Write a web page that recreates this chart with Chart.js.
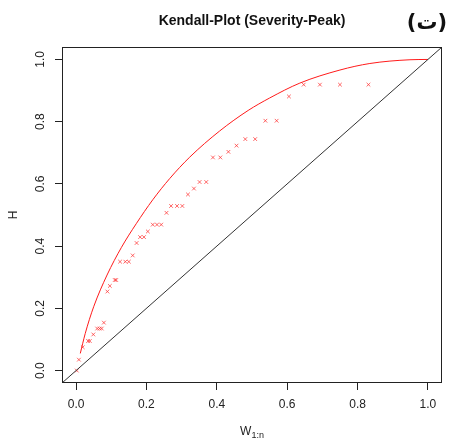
<!DOCTYPE html>
<html>
<head>
<meta charset="utf-8">
<script src="https://cdn.jsdelivr.net/npm/chart.js@4"></script>
<style>
  body { margin: 0; background: #fff; }
  canvas { display: block; }
</style>
</head>
<body>
<canvas id="kendall" width="449" height="438"></canvas>
<script>
// empirical Kendall points (W_i:n, H_i)
const wPoints = [0.002, 0.008, 0.019, 0.034, 0.039, 0.049, 0.060, 0.067, 0.073, 0.079,
  0.089, 0.096, 0.110, 0.114, 0.125, 0.140, 0.150, 0.161, 0.172, 0.182,
  0.193, 0.204, 0.218, 0.230, 0.242, 0.257, 0.270, 0.287, 0.302, 0.318,
  0.335, 0.351, 0.370, 0.389, 0.410, 0.433, 0.456, 0.481, 0.509, 0.538,
  0.570, 0.605, 0.647, 0.693, 0.750, 0.831];
const hPoints = [0.000, 0.035, 0.075, 0.095, 0.095, 0.116, 0.135, 0.135, 0.135, 0.154,
  0.254, 0.272, 0.291, 0.291, 0.350, 0.350, 0.350, 0.370, 0.410, 0.429,
  0.429, 0.447, 0.469, 0.469, 0.469, 0.507, 0.529, 0.529, 0.529, 0.566,
  0.585, 0.606, 0.606, 0.685, 0.685, 0.703, 0.723, 0.744, 0.744, 0.803,
  0.803, 0.881, 0.919, 0.919, 0.919, 0.919];

// fitted Kendall distribution K(w)
const curveW = [0.012, 0.026, 0.050, 0.088, 0.129, 0.171, 0.218, 0.266, 0.323, 0.408,
  0.489, 0.550, 0.636, 0.750, 0.835, 0.949, 1.0];
const curveK = [0.055, 0.119, 0.205, 0.307, 0.396, 0.472, 0.549, 0.617, 0.686, 0.770,
  0.836, 0.876, 0.924, 0.966, 0.987, 0.999, 1.0];

// independence line
const diagW = [-0.04, 1.04];

const axisMin = -0.04;
const axisMax = 1.04;
const tickValues = [0, 0.2, 0.4, 0.6, 0.8, 1.0];

const titleText = 'Kendall-Plot (Severity-Peak)';
const tagText = '(ت)';
const yTitle = 'H';

const font = "'Liberation Sans', Arial, sans-serif";

const keepTicks = (scale) => {
  scale.ticks = tickValues.map((v) => ({ value: v }));
};

const decorations = {
  id: 'decorations',
  afterDraw(chart) {
    const { ctx, chartArea } = chart;
    const yScale = chart.scales.y;
    ctx.save();
    // box
    ctx.strokeStyle = '#222';
    ctx.lineWidth = 1;
    ctx.strokeRect(chartArea.left + 0.5, chartArea.top + 0.5,
      chartArea.right - chartArea.left - 1, chartArea.bottom - chartArea.top - 1);

    // y tick labels, rotated like R
    ctx.fillStyle = '#222';
    ctx.font = '12px ' + font;
    ctx.textAlign = 'center';
    ctx.textBaseline = 'middle';
    tickValues.forEach((v) => {
      const y = yScale.getPixelForValue(v);
      ctx.save();
      ctx.translate(41, y);
      ctx.rotate(-Math.PI / 2);
      ctx.fillText(v.toFixed(1), 0, 0);
      ctx.restore();
    });

    // y title
    ctx.save();
    ctx.translate(14, (chartArea.top + chartArea.bottom) / 2);
    ctx.rotate(-Math.PI / 2);
    ctx.fillText(yTitle, 0, 0);
    ctx.restore();

    // x title W_{1:n}
    const cx = (chartArea.left + chartArea.right) / 2;
    ctx.textAlign = 'left';
    ctx.textBaseline = 'alphabetic';
    ctx.font = '12px ' + font;
    const wW = ctx.measureText('W').width;
    ctx.font = '9px ' + font;
    const subW = ctx.measureText('1:n').width;
    const startX = cx - (wW + subW) / 2;
    ctx.font = '12px ' + font;
    ctx.fillText('W', startX, 435);
    ctx.font = '9px ' + font;
    ctx.fillText('1:n', startX + wW, 438);

    // main title
    ctx.font = 'bold 14px ' + font;
    ctx.textAlign = 'center';
    ctx.fillStyle = '#111';
    ctx.fillText(titleText, cx, 25);

    // panel tag
    ctx.font = "bold 21px 'DejaVu Sans', sans-serif";
    ctx.fillText(tagText, 427, 29);
    ctx.restore();
  }
};

new Chart(document.getElementById('kendall'), {
  type: 'scatter',
  data: {
    datasets: [
      {
        label: 'diagonal',
        data: diagW.map((w) => ({ x: w, y: w })),
        showLine: true,
        borderColor: '#333',
        borderWidth: 1,
        pointRadius: 0,
      },
      {
        label: 'K(w)',
        data: curveW.map((w, i) => ({ x: w, y: curveK[i] })),
        showLine: true,
        borderColor: '#ff1a1a',
        borderWidth: 1,
        cubicInterpolationMode: 'monotone',
        pointRadius: 0,
      },
      {
        label: 'empirical',
        data: wPoints.map((w, i) => ({ x: w, y: hPoints[i] })),
        showLine: false,
        pointStyle: 'crossRot',
        pointRadius: 2.6,
        borderColor: 'rgba(255,40,40,0.7)',
        borderWidth: 1,
      },
    ],
  },
  options: {
    responsive: false,
    animation: false,
    devicePixelRatio: 1,
    layout: { padding: { top: 47, right: 7, left: 0, bottom: 0 } },
    plugins: {
      legend: { display: false },
      tooltip: { enabled: false },
    },
    scales: {
      x: {
        type: 'linear',
        min: axisMin,
        max: axisMax,
        afterBuildTicks: keepTicks,
        afterFit: (scale) => { scale.height = 55; },
        border: { display: false },
        grid: { drawOnChartArea: false, tickLength: 7, color: '#222' },
        ticks: {
          color: '#222',
          font: { size: 12, family: font },
          padding: 7,
          maxRotation: 0,
          callback: (v) => Number(v).toFixed(1),
        },
      },
      y: {
        type: 'linear',
        min: axisMin,
        max: axisMax,
        afterBuildTicks: keepTicks,
        afterFit: (scale) => { scale.width = 62; },
        border: { display: false },
        grid: { drawOnChartArea: false, tickLength: 7, color: '#222' },
        ticks: { display: false },
      },
    },
  },
  plugins: [decorations],
});
</script>
</body>
</html>
